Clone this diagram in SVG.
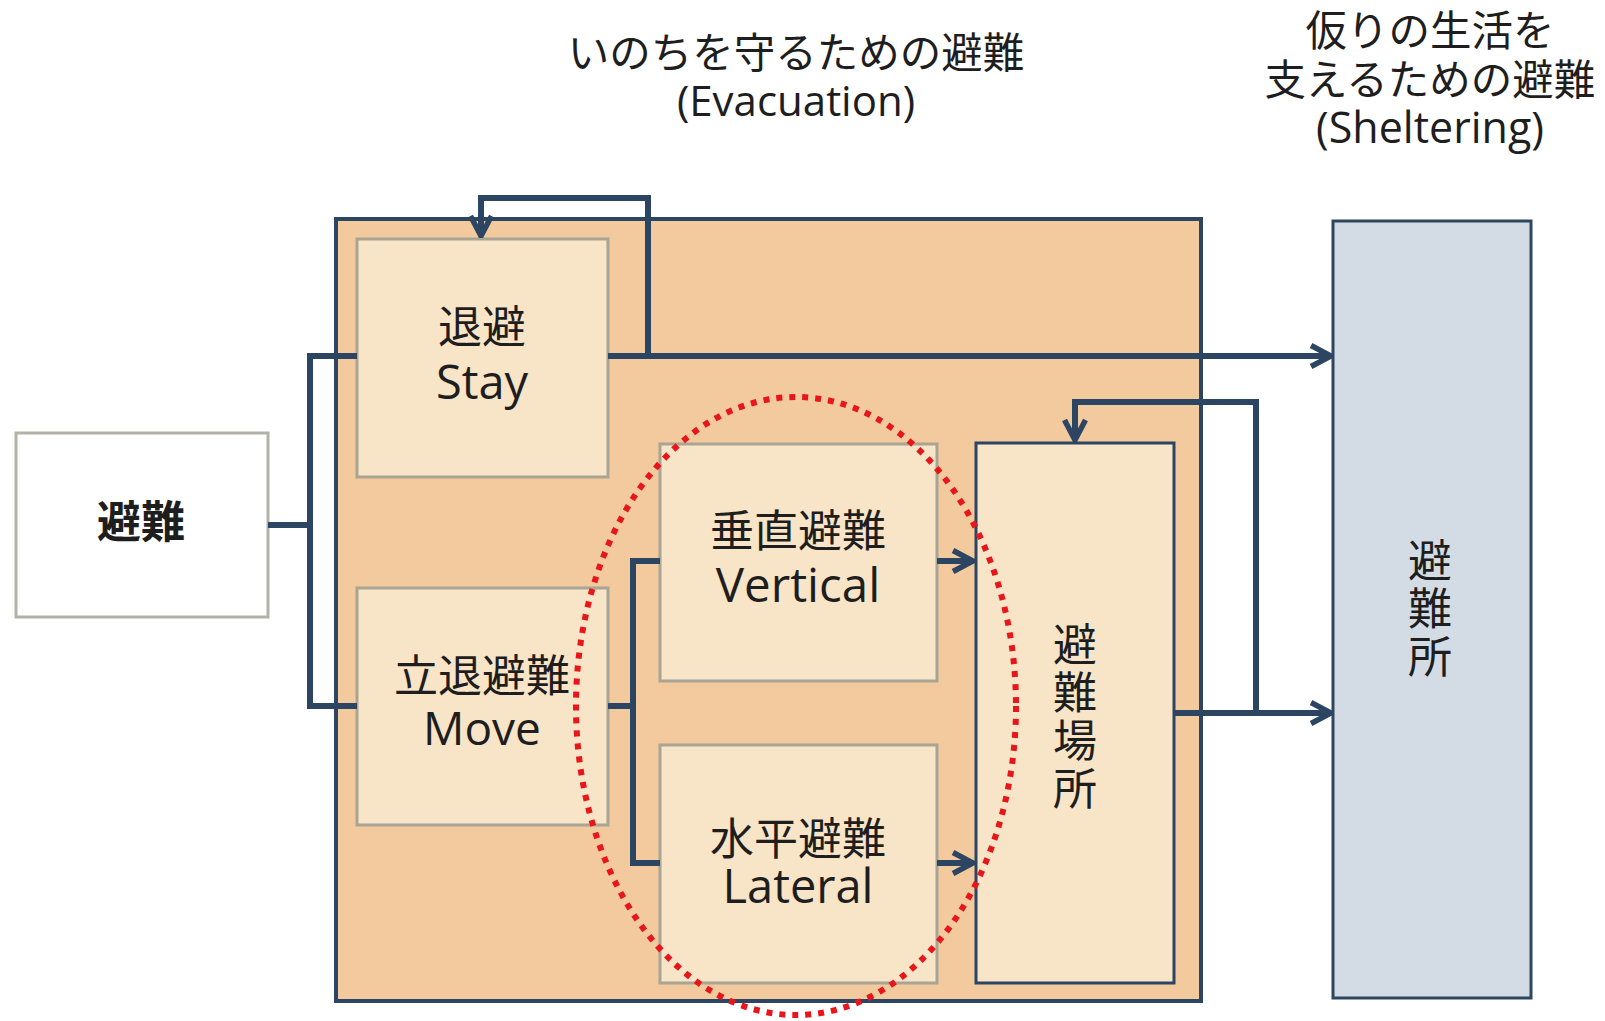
<svg xmlns="http://www.w3.org/2000/svg" width="1605" height="1021" viewBox="0 0 1605 1021">
<defs>
<style>
.jp{font-family:"Noto Sans CJK JP","Noto Sans",sans-serif;fill:#1e1e1e;text-anchor:middle}
.en{font-family:"Open Sans","Noto Sans",sans-serif;fill:#1e1e1e;text-anchor:middle}
.vt{font-family:"Noto Sans CJK JP","Noto Sans",sans-serif;fill:#1e1e1e;writing-mode:vertical-rl;text-anchor:start;letter-spacing:4px}
.inner{fill:#f8e4c6;stroke:#a9a594;stroke-width:3}
.conn{fill:none;stroke:#2b4562;stroke-width:6}
</style>
<marker id="arr" viewBox="0 0 12 12" refX="11" refY="6" markerWidth="4.2" markerHeight="4.2" orient="auto" markerUnits="strokeWidth">
<path d="M1.5,1 L11,6 L1.5,11" fill="none" stroke="#2b4562" stroke-width="2.6"/>
</marker>
</defs>
<rect width="1605" height="1021" fill="#ffffff"/>

<g id="title-evacuation">
<text class="jp" x="796" y="68" font-size="41.5">いのちを守るための避難</text>
<text class="en" x="796" y="116" font-size="42">(Evacuation)</text>
</g>
<g id="title-sheltering">
<text class="jp" x="1430" y="46" font-size="41.5">仮りの生活を</text>
<text class="jp" x="1430" y="95" font-size="41.5">支えるための避難</text>
<text class="en" x="1430" y="143" font-size="43">(Sheltering)</text>
</g>

<g id="evacuation-area">
<rect x="336" y="219" width="865" height="782" fill="#f3c99e" stroke="#2b4562" stroke-width="4"/>
</g>

<g id="hinan">
<rect x="16" y="433" width="252" height="184" fill="#ffffff" stroke="#b3b2a8" stroke-width="3"/>
<text class="jp" x="141" y="538" font-size="44" font-weight="bold">避難</text>
</g>

<g id="stay">
<rect class="inner" x="357" y="239" width="251" height="238"/>
<text class="jp" x="482" y="343" font-size="44">退避</text>
<text class="en" x="482" y="399" font-size="47">Stay</text>
</g>

<g id="move">
<rect class="inner" x="357" y="588" width="251" height="237"/>
<text class="jp" x="482" y="692" font-size="44">立退避難</text>
<text class="en" x="482" y="745" font-size="46">Move</text>
</g>

<g id="vertical">
<rect class="inner" x="660" y="444" width="277" height="237"/>
<text class="jp" x="798" y="547" font-size="44">垂直避難</text>
<text class="en" x="798" y="602" font-size="47.5">Vertical</text>
</g>

<g id="lateral">
<rect class="inner" x="660" y="745" width="277" height="238"/>
<text class="jp" x="798" y="855" font-size="44">水平避難</text>
<text class="en" x="798" y="903" font-size="47">Lateral</text>
</g>

<g id="hinan-basho">
<rect x="976" y="443" width="198" height="540" fill="#f8e4c6" stroke="#2b4562" stroke-width="3"/>
<text class="vt" x="1075" y="622" font-size="44">避難場所</text>
</g>

<g id="hinanjo">
<rect x="1333" y="221" width="198" height="777" fill="#d3dbe5" stroke="#2f465f" stroke-width="3"/>
<text class="vt" x="1430" y="538" font-size="44">避難所</text>
</g>

<g id="connectors">
<path class="conn" d="M268,525 H310 M310,353 V709 M307,356 H357 M307,706 H357"/>
<path class="conn" d="M608,356 H1331" marker-end="url(#arr)"/>
<path class="conn" d="M648,356 V198 H481 V236" marker-end="url(#arr)"/>
<path class="conn" d="M608,706 H633 M633,558 V866 M630,561 H660 M630,863 H660"/>
<path class="conn" d="M937,561 H973" marker-end="url(#arr)"/>
<path class="conn" d="M937,863 H973" marker-end="url(#arr)"/>
<path class="conn" d="M1174,713 H1331" marker-end="url(#arr)"/>
<path class="conn" d="M1256,713 V402 H1075 V440" marker-end="url(#arr)"/>
</g>

<g id="highlight">
<ellipse cx="796" cy="706" rx="220" ry="309" fill="none" stroke="#e8161b" stroke-width="6" stroke-dasharray="6 7"/>
</g>
</svg>
